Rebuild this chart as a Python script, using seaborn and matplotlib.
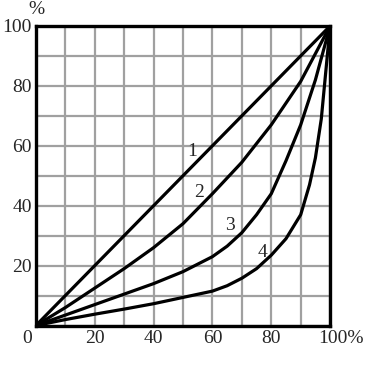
import numpy as np
import pandas as pd
import matplotlib
matplotlib.use("Agg")
import matplotlib.pyplot as plt
import matplotlib.transforms as mtransforms
import seaborn as sns

# values (share of population %, share of income %)
curve1_x = [0, 50, 100]
curve1_y = [0, 50, 100]

curve2_x = [0, 10, 20, 30, 40, 50, 60, 70, 80, 90, 100]
curve2_y = [0, 6, 12.5, 19, 26, 34, 44, 54.5, 67, 81.5, 100]

curve3_x = [0, 10, 20, 30, 40, 50, 60, 65, 70, 75, 80, 85, 90, 95, 100]
curve3_y = [0, 3.5, 7, 10.5, 14, 18, 23, 26.5, 31, 37, 44, 55, 67, 82, 100]

curve4_x = [0, 10, 20, 30, 40, 50, 60, 65, 70, 75, 80, 85, 90, 93, 95, 97, 100]
curve4_y = [0, 2, 3.8, 5.5, 7.3, 9.4, 11.5, 13.3, 15.8, 19, 23.5, 29, 37, 47, 56, 69, 100]

curve_names = ["1", "2", "3", "4"]
label_pos = {"1": (53, 58), "2": (55.5, 44.5), "3": (66, 33.5), "4": (77, 24.5)}

tick_vals = list(range(0, 101, 10))
x_tick_labels = ["", "", "20", "", "40", "", "60", "", "80", "", "100%"]
y_tick_labels = ["", "", "20", "", "40", "", "60", "", "80", "", "100"]

frames = []
for name, xs, ys in zip(curve_names,
                        [curve1_x, curve2_x, curve3_x, curve4_x],
                        [curve1_y, curve2_y, curve3_y, curve4_y]):
    frames.append(pd.DataFrame({"x": xs, "y": ys, "curve": name}))
df = pd.concat(frames, ignore_index=True)

sns.set_style("white")
plt.rcParams["font.family"] = ["Liberation Serif", "DejaVu Serif"]

fig = plt.figure(figsize=(3.66, 3.65), dpi=100)
ax = fig.add_axes([0.098, 0.108, 0.804, 0.821])

sns.lineplot(data=df, x="x", y="y", hue="curve", units="curve", estimator=None,
             sort=False, palette={c: "black" for c in curve_names},
             linewidth=2.3, legend=False, ax=ax)

ax.set_xlim(0, 100)
ax.set_ylim(0, 100)
ax.set_xticks(tick_vals)
ax.set_yticks(tick_vals)
ax.set_xticklabels(x_tick_labels, fontsize=14)
ax.set_yticklabels(y_tick_labels, fontsize=14)
ax.tick_params(length=0, pad=3)
ax.set_xlabel("")
ax.set_ylabel("")
ax.grid(True, color="#a0a0a0", linewidth=1.6)
ax.set_axisbelow(True)
for sp in ax.spines.values():
    sp.set_color("black")
    sp.set_linewidth(2.4)

# "100%" sits a little to the right of its gridline
last = ax.get_xticklabels()[-1]
last.set_transform(last.get_transform() + mtransforms.ScaledTranslation(8 / 72, 0, fig.dpi_scale_trans))

for name, (lx, ly) in label_pos.items():
    ax.text(lx, ly, name, fontsize=14, ha="center", va="center")

ax.text(-0.03, -0.015, "0", transform=ax.transAxes, fontsize=14, ha="center", va="top")
ax.text(0.003, 1.025, "%", transform=ax.transAxes, fontsize=14, ha="center", va="bottom")

fig.savefig("out.png", dpi=100, facecolor="white")
